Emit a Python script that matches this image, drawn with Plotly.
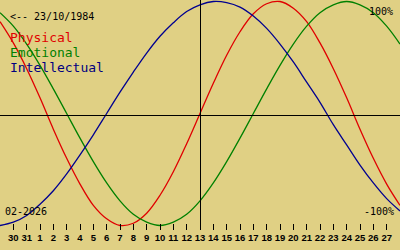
import plotly.graph_objects as go

# Days shown: 29 Jan 2026 .. 28 Feb 2026 (index 0..30)
day_index = list(range(31))
tick_index = list(range(1, 30))
tick_labels = ["30", "31"] + [str(d) for d in range(1, 28)]

# Biorhythm values (-1..1) read per day
physical = [0.82, 0.63, 0.40, 0.14, -0.14, -0.40, -0.63, -0.82, -0.94, -1.00,
            -0.98, -0.89, -0.73, -0.52, -0.27, 0.00, 0.27, 0.52, 0.73, 0.89,
            0.98, 1.00, 0.94, 0.82, 0.63, 0.40, 0.14, -0.14, -0.40, -0.63, -0.82]
emotional = [0.90, 0.78, 0.62, 0.43, 0.22, 0.00, -0.22, -0.43, -0.62, -0.78,
             -0.90, -0.97, -1.00, -0.97, -0.90, -0.78, -0.62, -0.43, -0.22, 0.00,
             0.22, 0.43, 0.62, 0.78, 0.90, 0.97, 1.00, 0.97, 0.90, 0.78, 0.62]
intellectual = [-1.00, -0.97, -0.91, -0.81, -0.69, -0.54, -0.37, -0.19, 0.00, 0.19,
                0.37, 0.54, 0.69, 0.81, 0.91, 0.97, 1.00, 0.99, 0.95, 0.87,
                0.76, 0.62, 0.46, 0.28, 0.10, -0.10, -0.28, -0.46, -0.62, -0.76, -0.87]
today_index = 15

BG = "#E0D084"
RED = "#E00000"
GREEN = "#008000"
BLUE = "#000090"
MONO = "DejaVu Sans Mono"

W, H = 400.0, 230.0
X_SPAN = 30.0

fig = go.Figure()
for name, vals, col in [("Physical", physical, RED),
                        ("Emotional", emotional, GREEN),
                        ("Intellectual", intellectual, BLUE)]:
    fig.add_trace(go.Scatter(x=day_index, y=vals, mode="lines", name=name,
                             line=dict(color=col, width=1.3, shape="spline"),
                             hoverinfo="skip"))

# crisp 1px guide lines (half-pixel offset)
half_px_x = 0.5 * X_SPAN / W
fig.add_shape(type="line", xref="x", yref="paper",
              x0=today_index + half_px_x, x1=today_index + half_px_x,
              y0=0, y1=1, line=dict(color="black", width=1))
fig.add_shape(type="line", xref="paper", yref="paper", x0=0, x1=1,
              y0=1 - 115.5 / H, y1=1 - 115.5 / H, line=dict(color="black", width=1))

def py(pix):
    return 1 - pix / H

def ann(text, x, ypix, size, color="black", xanchor="left"):
    fig.add_annotation(text=text, xref="paper", yref="paper", x=x / W, y=py(ypix),
                       xanchor=xanchor, yanchor="middle", showarrow=False,
                       font=dict(family=MONO, size=size, color=color), borderpad=0)

ann("&lt;-- 23/10/1984", 9, 16.5, 10)
ann("Physical", 9, 37.5, 13, RED)
ann("Emotional", 9, 52.5, 13, GREEN)
ann("Intellectual", 9, 67.5, 13, "#000080")
ann("02-2026", 4, 211.5, 10)
ann("100%", 394, 11.5, 10, xanchor="right")
ann("-100%", 395, 211.5, 10, xanchor="right")

fig.update_layout(
    width=400, height=250,
    margin=dict(l=0, r=0, t=0, b=20, pad=0),
    paper_bgcolor=BG, plot_bgcolor=BG,
    showlegend=False,
    xaxis=dict(range=[0, X_SPAN], showgrid=False, zeroline=False, showline=False,
               tickmode="array", tickvals=tick_index, ticktext=tick_labels,
               ticks="inside", ticklen=6, tickwidth=1, tickcolor="black",
               tickangle=0,
               tickfont=dict(family="Liberation Sans", size=9.5, color="black", weight="bold"),
               fixedrange=True),
    yaxis=dict(range=[-1.0402, 1.0134], showgrid=False, zeroline=False,
               showline=False, showticklabels=False, ticks="", fixedrange=True),
)

fig.write_html("out.html")
